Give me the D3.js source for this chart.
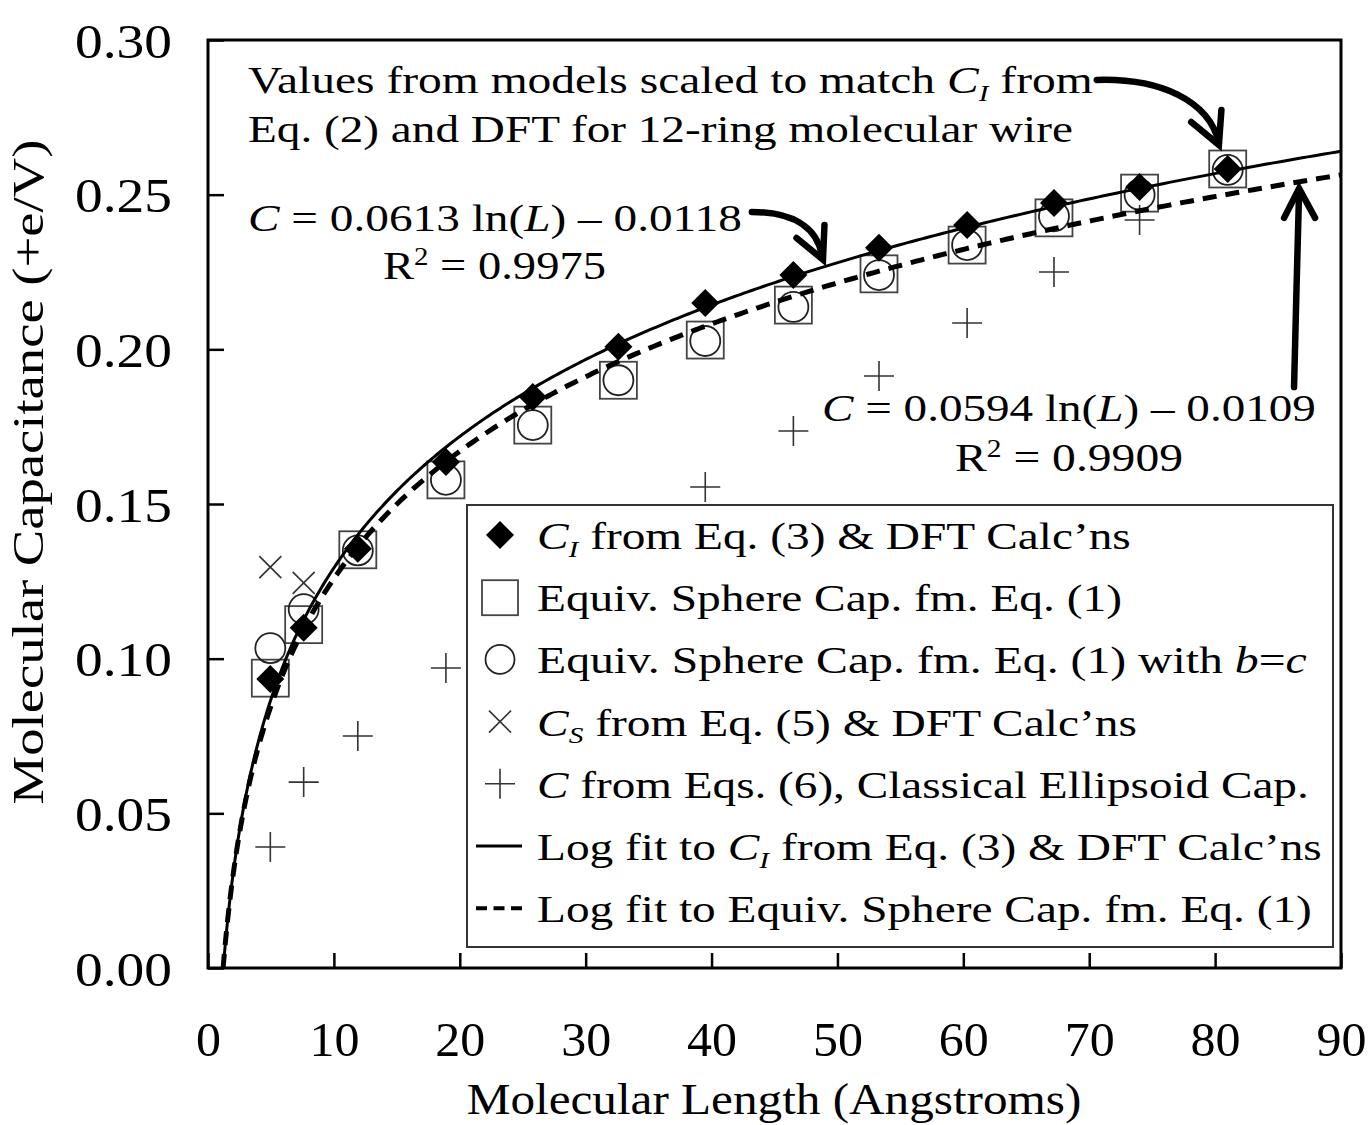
<!DOCTYPE html>
<html><head><meta charset="utf-8">
<script src="https://cdn.jsdelivr.net/npm/d3@7"></script>
<style>
html,body{margin:0;padding:0;background:#fff;}
svg{display:block;}
text{font-family:"Liberation Serif","Times New Roman","DejaVu Serif",serif;fill:#000;}
</style></head>
<body>
<svg id="chart" width="1372" height="1125"></svg>
<script>
// ---------------- data ----------------
const lengths   = [4.95, 7.6, 11.9, 18.9, 25.8, 32.6, 39.5, 46.5, 53.3, 60.3, 67.2, 74.0, 81.0];
const ciDFT     = [0.0934, 0.1100, 0.1355, 0.1636, 0.1846, 0.2008, 0.2150, 0.2240, 0.2328, 0.2402, 0.2473, 0.2525, 0.2583];
const eqSphere  = [0.0937, 0.1110, 0.1352, 0.1578, 0.1755, 0.1900, 0.2030, 0.2143, 0.2244, 0.2337, 0.2425, 0.2505, 0.2583];
const eqSphereBC= [0.1034, 0.1160, 0.1350, 0.1578, 0.1755, 0.1900, 0.2027, 0.2137, 0.2240, 0.2337, 0.2430, 0.2500, 0.2580];
const csLengths = [4.95, 7.6];
const csDFT     = [0.1296, 0.1245];
const ellLengths= [4.95, 7.6, 11.9, 18.9, 39.5, 46.5, 53.3, 60.3, 67.2, 74.0];
const ellipsoid = [0.0391, 0.0601, 0.0750, 0.0970, 0.1555, 0.1736, 0.1914, 0.2085, 0.2250, 0.2418];
const fitCI     = {a: 0.0613, b: -0.0118};   // C = a ln(L) + b
const fitSphere = {a: 0.0594, b: -0.0109};
const xTicks = [0, 10, 20, 30, 40, 50, 60, 70, 80, 90];
const yTicks = [0.00, 0.05, 0.10, 0.15, 0.20, 0.25, 0.30];
const legendLabels = [
  ["ci",  [["C","i"],["I","sub"],[" from Eq. (3) & DFT Calc\u2019ns",""]]],
  ["sq",  [["Equiv. Sphere Cap. fm. Eq. (1)",""]]],
  ["ci2", [["Equiv. Sphere Cap. fm. Eq. (1) with ",""],["b","i"],["=",""],["c","i"]]],
  ["x",   [["C","i"],["S","sub"],[" from Eq. (5) & DFT Calc\u2019ns",""]]],
  ["+",   [["C","i"],[" from Eqs. (6), Classical Ellipsoid Cap.",""]]],
  ["line",[["Log fit to ",""],["C","i"],["I","sub"],[" from Eq. (3) & DFT Calc\u2019ns",""]]],
  ["dash",[["Log fit to Equiv. Sphere Cap. fm. Eq. (1)",""]]]
];
// annotation arrows, data units [L, C]
const arrowTop   = {path:[[70.6,0.2871],[75.6,0.2877],[79.5,0.2806],[80.3,0.2668]], head:[[78.1,0.2735],[80.3,0.2661],[80.5,0.2774]]};
const arrowMid   = {path:[[43.2,0.2444],[46.2,0.2444],[48.4,0.2402],[48.8,0.2298]], head:[[46.75,0.2360],[48.85,0.2290],[48.97,0.2402]]};
const arrowRight = {path:[[86.27,0.1878],[86.3,0.1950],[86.6,0.2400],[86.67,0.2510]], head:[[85.48,0.2425],[86.67,0.2520],[87.94,0.2425]]};

// ---------------- layout ----------------
const svg = d3.select("#chart");
svg.append("rect").attr("width",1372).attr("height",1125).attr("fill","#fff");
const X0=208, X1=1341, Y0=968, Y1=40;
const x = d3.scaleLinear().domain([0,90]).range([X0,X1]);
const y = d3.scaleLinear().domain([0,0.30]).range([Y0,Y1]);

function fitText(t, target){
  const w = t.node().getBBox().width;
  const s = target / w;
  const tx = +t.attr("data-x"), ty = +t.attr("data-y");
  t.attr("transform", `translate(${tx},${ty}) scale(${s},1)`);
}
function richText2(parent, x0, y0, parts, size, anchor){
  const t = parent.append("text").attr("x",0).attr("y",0)
    .attr("data-x",x0).attr("data-y",y0)
    .attr("transform",`translate(${x0},${y0})`)
    .attr("font-size",size).attr("text-anchor",anchor||"start");
  let shift = 0;
  parts.forEach(([s,style])=>{
    const sp = t.append("tspan").text(s);
    let target = 0;
    if(style==="i") sp.attr("font-style","italic");
    if(style==="sub"){ sp.attr("font-style","italic").attr("font-size",size*0.62); target = size*0.2; }
    if(style==="sup"){ sp.attr("font-size",size*0.62); target = -size*0.36; }
    if(target!==shift){ sp.attr("dy", target-shift); shift = target; }
  });
  return t;
}

// ---------------- axes ----------------
const gx = svg.append("g").attr("transform",`translate(0,${Y0})`)
  .call(d3.axisBottom(x).tickValues(xTicks).tickFormat(d3.format("d")).tickSizeInner(-15).tickSizeOuter(0).tickPadding(50));
const gy = svg.append("g").attr("transform",`translate(${X0},0)`)
  .call(d3.axisLeft(y).tickValues(yTicks).tickFormat(d3.format(".2f")).tickSizeInner(-16).tickSizeOuter(0).tickPadding(36));
[gx,gy].forEach(g=>{
  g.select(".domain").remove();
  g.attr("font-family",null);
  g.selectAll(".tick line").attr("stroke","#000").attr("stroke-width",2.5);
  g.selectAll(".tick text").attr("font-size",49).attr("fill","#000");
});
gx.selectAll(".tick text").attr("dy",null).attr("y",0).each(function(){
  const t = d3.select(this); const n = t.text().length;
  const w = this.getBBox().width; const s = (n*25)/w;
  t.attr("transform",`translate(0,88) scale(${s},1)`);
});
gy.selectAll(".tick text").attr("dy",null).attr("x",0).each(function(){
  const t = d3.select(this);
  const w = this.getBBox().width; const s = 97/w;
  t.attr("transform",`translate(-36,17) scale(${s},1)`);
});

// axis titles
const xt = svg.append("text").attr("data-x",774).attr("data-y",1114)
  .attr("text-anchor","middle").attr("font-size",44).text("Molecular Length (Angstroms)");
fitText(xt, 615);
const yt = svg.append("text").attr("text-anchor","middle").attr("font-size",44)
  .text("Molecular Capacitance (+e/V)");
{
  const w = yt.node().getBBox().width; const s = 665/w;
  yt.attr("transform",`translate(43,472) rotate(-90) scale(${s},1)`);
}

// ---------------- fit curves ----------------
const plot = svg.append("g");
function curvePts(f){
  const L0 = Math.exp(-f.b/f.a);
  return d3.range(0,401).map(i=>{ const L = L0 + (90-L0)*Math.pow(i/400,2); return [L, f.a*Math.log(L)+f.b]; });
}
const line = d3.line().x(d=>x(d[0])).y(d=>y(d[1])).curve(d3.curveLinear);

// ---------------- markers ----------------
plot.selectAll(".plus").data(ellLengths.map((L,i)=>[L,ellipsoid[i]])).join("path")
  .attr("d",d=>`M${x(d[0])-15},${y(d[1])}h30M${x(d[0])},${y(d[1])-15}v30`)
  .attr("stroke","#333").attr("stroke-width",1.6).attr("fill","none");
plot.selectAll(".cross").data(csLengths.map((L,i)=>[L,csDFT[i]])).join("path")
  .attr("d",d=>`M${x(d[0])-11},${y(d[1])-11}l22,22M${x(d[0])+11},${y(d[1])-11}l-22,22`)
  .attr("stroke","#333").attr("stroke-width",1.6).attr("fill","none");
plot.selectAll(".sq").data(lengths.map((L,i)=>[L,eqSphere[i]])).join("rect")
  .attr("x",d=>x(d[0])-18.5).attr("y",d=>y(d[1])-18.5).attr("width",37).attr("height",37)
  .attr("fill","none").attr("stroke","#444").attr("stroke-width",1.8);
plot.selectAll(".circ").data(lengths.map((L,i)=>[L,eqSphereBC[i]])).join("circle")
  .attr("cx",d=>x(d[0])).attr("cy",d=>y(d[1])).attr("r",15)
  .attr("fill","none").attr("stroke","#222").attr("stroke-width",1.8);
plot.append("path").datum(curvePts(fitSphere)).attr("d",line)
  .attr("fill","none").attr("stroke","#000").attr("stroke-width",5).attr("stroke-dasharray","14,9");
plot.append("path").datum(curvePts(fitCI)).attr("d",line)
  .attr("fill","none").attr("stroke","#000").attr("stroke-width",3);
plot.selectAll(".dia").data(lengths.map((L,i)=>[L,ciDFT[i]])).join("path")
  .attr("d",d=>`M${x(d[0])},${y(d[1])-14}l14,14l-14,14l-14,-14z`)
  .attr("fill","#000");

// ---------------- frame ----------------
svg.append("rect").attr("x",X0).attr("y",Y1).attr("width",X1-X0).attr("height",Y0-Y1)
  .attr("fill","none").attr("stroke","#000").attr("stroke-width",3);

// ---------------- legend ----------------
const lg = svg.append("g");
lg.append("rect").attr("x",467).attr("y",505).attr("width",866).attr("height",442)
  .attr("fill","#fff").attr("stroke","#333").attr("stroke-width",2);
const legendWidths = [594, 585, 770, 600, 772, 785, 775];
legendLabels.forEach(([sym,parts],i)=>{
  const cy = 535 + i*62.2, sx = 500;
  if(sym==="ci") lg.append("path").attr("d",`M${sx},${cy-14}l14,14l-14,14l-14,-14z`).attr("fill","#000");
  if(sym==="sq") lg.append("rect").attr("x",sx-18).attr("y",cy-17).attr("width",36).attr("height",35).attr("fill","none").attr("stroke","#444").attr("stroke-width",1.8);
  if(sym==="ci2") lg.append("circle").attr("cx",sx).attr("cy",cy).attr("r",14.5).attr("fill","none").attr("stroke","#222").attr("stroke-width",1.8);
  if(sym==="x") lg.append("path").attr("d",`M${sx-11},${cy-11}l22,22M${sx+11},${cy-11}l-22,22`).attr("stroke","#333").attr("stroke-width",1.6);
  if(sym==="+") lg.append("path").attr("d",`M${sx-15},${cy}h30M${sx},${cy-15}v30`).attr("stroke","#333").attr("stroke-width",1.6);
  if(sym==="line") lg.append("line").attr("x1",476).attr("x2",522).attr("y1",cy).attr("y2",cy).attr("stroke","#000").attr("stroke-width",3);
  if(sym==="dash") lg.append("line").attr("x1",476).attr("x2",522).attr("y1",cy).attr("y2",cy).attr("stroke","#000").attr("stroke-width",4).attr("stroke-dasharray","11,6.5");
  const t = richText2(lg, 537, cy+14, parts, 38);
  fitText(t, legendWidths[i]);
});

// ---------------- annotations ----------------
const an = svg.append("g");
const a1 = richText2(an, 248, 93, [["Values from models scaled to match ",""],["C","i"],["I","sub"],[" from",""]], 38);
fitText(a1, 845);
const a2 = richText2(an, 248, 142, [["Eq. (2) and DFT for 12-ring molecular wire",""]], 38);
fitText(a2, 825);
const e1 = richText2(an, 248, 231, [["C","i"],[" = 0.0613 ln(",""],["L","i"],[") \u2013 0.0118",""]], 39);
fitText(e1, 494);
const r1 = richText2(an, 383, 279, [["R",""],["2","sup"],[" = 0.9975",""]], 39);
fitText(r1, 223);
const e2 = richText2(an, 822, 421, [["C","i"],[" = 0.0594 ln(",""],["L","i"],[") \u2013 0.0109",""]], 39);
fitText(e2, 494);
const r2 = richText2(an, 955, 471, [["R",""],["2","sup"],[" = 0.9909",""]], 39);
fitText(r2, 228);

function drawArrow(a){
  const p = a.path.map(d=>[x(d[0]),y(d[1])]);
  an.append("path").attr("d",`M${p[0]}C${p[1]} ${p[2]} ${p[3]}`)
    .attr("fill","none").attr("stroke","#000").attr("stroke-width",6.5).attr("stroke-linecap","round");
  const h = a.head.map(d=>[x(d[0]),y(d[1])]);
  an.append("path").attr("d",`M${h[0]}L${h[1]}L${h[2]}`)
    .attr("fill","none").attr("stroke","#000").attr("stroke-width",6.5).attr("stroke-linecap","round").attr("stroke-linejoin","miter");
}
[arrowTop, arrowMid, arrowRight].forEach(drawArrow);
</script>
</body></html>
